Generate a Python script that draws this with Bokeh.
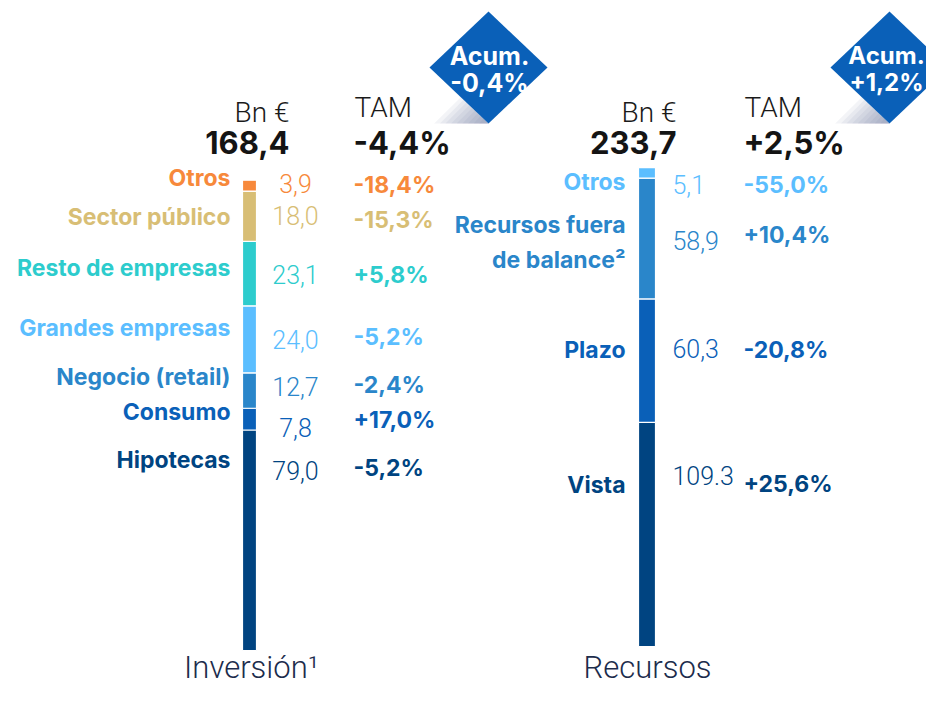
from bokeh.plotting import figure
from bokeh.models import Range1d
from bokeh.core.properties import value
from bokeh.embed import file_html
from bokeh.resources import INLINE
import numpy as np

# ---------------- data ----------------
inv_cats = ["Hipotecas", "Consumo", "Negocio (retail)", "Grandes empresas",
            "Resto de empresas", "Sector público", "Otros"]
inv_vals = [79.0, 7.8, 12.7, 24.0, 23.1, 18.0, 3.9]
inv_tam = ["-5,2%", "+17,0%", "-2,4%", "-5,2%", "+5,8%", "-15,3%", "-18,4%"]
inv_total = 168.4
inv_total_tam = "-4,4%"
inv_acum = "-0,4%"
inv_title = "Inversión¹"

rec_cats = ["Vista", "Plazo", "Recursos fuera\nde balance²", "Otros"]
rec_vals = [109.3, 60.3, 58.9, 5.1]
rec_tam = ["+25,6%", "-20,8%", "+10,4%", "-55,0%"]
rec_total = 233.7
rec_total_tam = "+2,5%"
rec_acum = "+1,2%"
rec_title = "Recursos"

unit_label = "Bn €"
tam_label = "TAM"
acum_label = "Acum."

# ---------------- styles / layout ----------------
inv_colors = ["#004481", "#0a60b8", "#2a86ca", "#5bbeff", "#2dcccd", "#d8be75", "#f7893b"]
rec_colors = ["#004481", "#0a60b8", "#2a86ca", "#5bbeff"]
rec_dec_sep = [".", ",", ",", ","]

BOLD = value("Inter")
LIGHT = value("Roboto Light")

W, H = 926, 685


def fmt(v, sep=","):
    return f"{v:.1f}".replace(".", sep)


p = figure(width=W, height=H, output_backend="svg", toolbar_location=None,
           x_range=Range1d(0, W), y_range=Range1d(H, 0),
           min_border=0, outline_line_color=None)
p.axis.visible = False
p.grid.visible = False
p.background_fill_color = "white"
p.border_fill_color = "white"


def add_range(name, total, top_px, bottom_px):
    s = total / (bottom_px - top_px)
    p.extra_y_ranges[name] = Range1d(-(H - bottom_px) * s, total + top_px * s)


add_range("inv", inv_total, 180, 650)
add_range("rec", rec_total, 167, 646)


def stacked(vals, colors, x, w, rname):
    tops = np.cumsum(vals)
    bottoms = tops - np.array(vals)
    p.vbar(x=[x] * len(vals), width=w, bottom=bottoms, top=tops, fill_color=colors,
           line_color="white", line_width=1.2, y_range_name=rname)


stacked(inv_vals, inv_colors, 249, 14, "inv")
stacked(rec_vals, rec_colors, 646.5, 17, "rec")


def txt(x, y, t, size, color, font=BOLD, style="bold", align="left", lh=1.2):
    p.text(x=x, y=y, text=t, text_font=font, text_font_size=f"{size}px",
           text_font_style=style, text_color=color, text_align=align,
           text_baseline="middle", text_line_height=lh)


# ---- left (Inversión) ----
inv_label_y = [459, 411, 376, 327, 267, 216, 177]
inv_value_y = [470, 427, 386, 339, 274, 215, 183]
inv_tam_y = [467, 419, 384, 336, 274, 219, 184]
txt([230] * 7, inv_label_y, inv_cats, 23, inv_colors, align="right")
txt([295] * 7, inv_value_y, [fmt(v) for v in inv_vals], 25, inv_colors,
    font=LIGHT, style="normal", align="center")
txt([353] * 7, inv_tam_y, inv_tam, 23, inv_colors)

txt([289], [112], [unit_label], 28, "#1a1a1a", font=LIGHT, style="normal", align="right")
txt([289], [142], [fmt(inv_total)], 31, "#141414", align="right")
txt([354], [107], [tam_label], 28, "#1a1a1a", font=LIGHT, style="normal")
txt([353], [142], [inv_total_tam], 31, "#141414")

# ---- right (Recursos) ----
rec_label_y = [484, 349, 242, 181]
rec_value_y = [475, 348, 240, 184]
rec_tam_y = [483, 349, 234, 184]
txt([625] * 4, rec_label_y, rec_cats, 23, rec_colors, align="right", lh=1.25)
txt([672] * 4, rec_value_y, [fmt(v, s) for v, s in zip(rec_vals, rec_dec_sep)], 25,
    rec_colors, font=LIGHT, style="normal")
txt([743] * 4, rec_tam_y, rec_tam, 23, rec_colors)

txt([676], [112], [unit_label], 28, "#1a1a1a", font=LIGHT, style="normal", align="right")
txt([676], [142], [fmt(rec_total)], 31, "#141414", align="right")
txt([744], [107], [tam_label], 28, "#1a1a1a", font=LIGHT, style="normal")
txt([743], [142], [rec_total_tam], 31, "#141414")

# ---- bottom titles ----
txt([251], [667], [inv_title], 31, "#1c2c4c", font=LIGHT, style="normal", align="center")
txt([647], [667], [rec_title], 31, "#1c2c4c", font=LIGHT, style="normal", align="center")


# ---- "Acum." diamonds with shadow ----
def diamond(cx, cy, hw, hh, label, tx, size):
    bottom = cy + hh

    def edge_y(x):
        return cy + hh * (x - (cx - hw)) / hw
    for t in np.linspace(0, 0.85, 9):
        left = cx - hw * 0.92 + t * hw * 0.9
        ax = cx - hw * 0.47 + t * hw * 0.45
        p.patch([left, cx, ax], [bottom, bottom, edge_y(ax)], fill_color="#4f6a92",
                fill_alpha=0.07, line_color=None)
    p.patch([cx, cx + hw, cx, cx - hw], [cy - hh, cy, cy + hh, cy],
            fill_color="#0a60b8", line_color=None)
    txt([tx, tx], [55, 82], [acum_label, label], size, "white", align="center")


diamond(488, 67, 59, 56, inv_acum, 489, 25)
diamond(889, 67, 59, 56, rec_acum, 886, 24)

open("out.html", "w").write(file_html(p, INLINE))
